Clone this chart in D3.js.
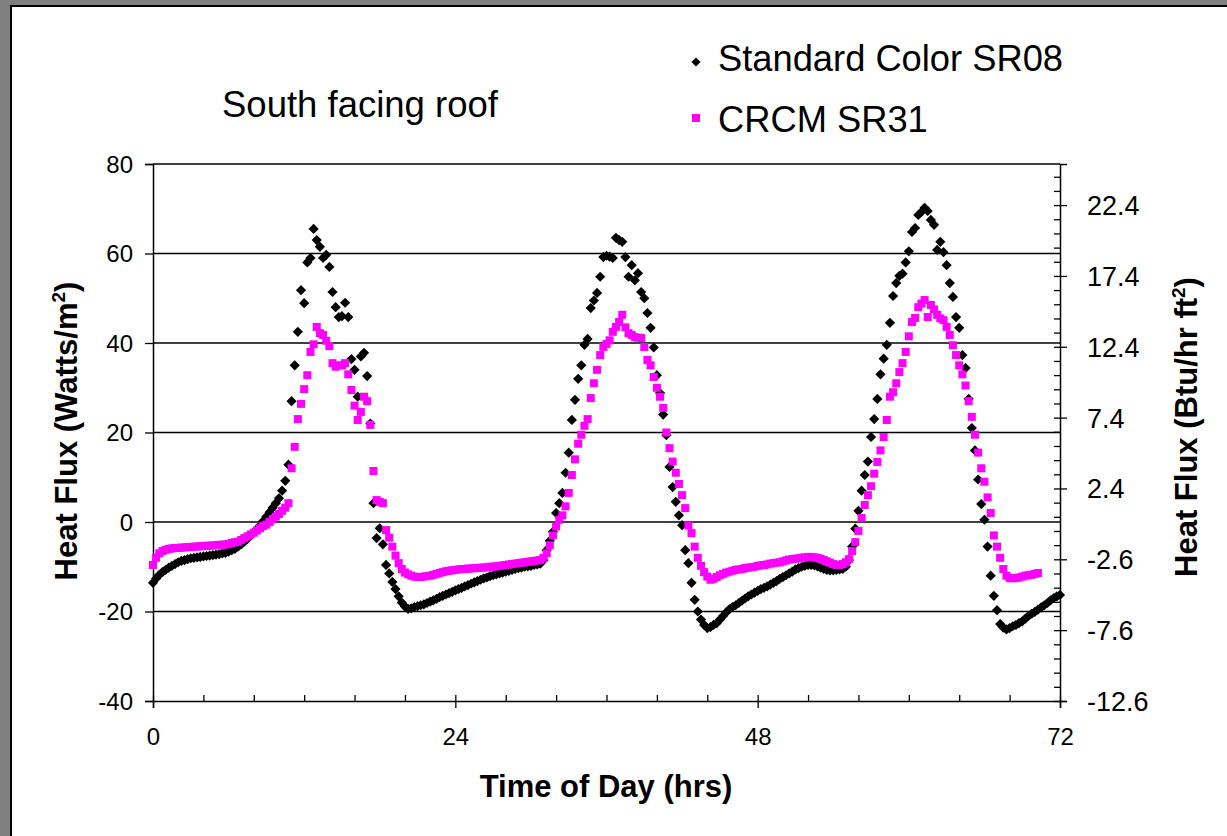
<!DOCTYPE html>
<html>
<head>
<meta charset="utf-8">
<script src="https://cdn.jsdelivr.net/npm/d3@7"></script>
<style>
  html, body { margin: 0; padding: 0; background: #fff; }
  svg { display: block; }
  text { font-family: "Liberation Sans", Arial, sans-serif; fill: #000; }
</style>
</head>
<body>
<svg id="chart" width="1227" height="836"></svg>
<script>
// ---- Data (time step 0.25 h) ----
const timeStep = 0.25;
const standardSR08 = [
  -13.6, -12.6, -11.8, -11.2,  -10.7, -10.2, -9.8, -9.4,  -9.0, -8.7, -8.5, -8.3,  -8.1, -8.0, -7.9, -7.8,
  -7.7, -7.6, -7.5, -7.4,  -7.3, -7.2, -7.0, -6.9,  -6.6, -6.3, -6.0, -5.5,  -5.0, -4.4, -3.8, -3.0,
  -2.3, -1.6, -0.8, 0.2,  1.2, 2.2, 3.2, 4.2,  5.3, 7.0, 9.2, 12.8,  27.0, 35.0, 42.5, 51.8,
  48.9, 58.0, 59.0, 65.5,  63.0, 61.5, 59.0, 59.7,  57.0, 51.4, 48.0, 45.8,  46.0, 49.0, 45.8, 36.4,
  34.0, 28.0, 37.0, 37.8,  32.6, 22.0, 4.2, -3.6,  -1.4, -5.0, -9.6, -11.5,  -13.4, -15.0, -16.6, -18.0,
  -18.9, -19.4, -19.3, -19.0,  -18.8, -18.6, -18.4, -18.1,  -17.8, -17.5, -17.2, -16.8,  -16.5, -16.2, -15.9, -15.6,
  -15.3, -15.0, -14.7, -14.4,  -14.1, -13.8, -13.5, -13.2,  -12.9, -12.6, -12.4, -12.1,  -11.9, -11.7, -11.5, -11.3,
  -11.1, -10.9, -10.7, -10.5,  -10.3, -10.2, -10.0, -9.9,  -9.8, -9.6, -9.5, -9.3,  -8.5, -6.3, -4.2, -2.2,
  2.0, 4.2, 6.5, 11.0,  15.5, 22.8, 27.3, 32.0,  35.0, 39.6, 40.9, 47.8,  49.5, 51.2, 54.8, 59.2,
  59.5, 59.3, 59.0, 63.5,  63.0, 62.6, 59.2, 54.8,  57.4, 54.0, 55.6, 51.4,  50.0, 46.7, 43.4, 39.0,
  32.8, 28.8, 24.0, 19.4,  12.3, 7.8, 4.5, 1.5,  -0.7, -6.3, -9.2, -13.6,  -17.4, -20.0, -21.8, -23.0,
  -23.7, -23.5, -23.0, -22.6,  -21.8, -21.0, -20.2, -19.5,  -19.0, -18.6, -18.1, -17.6,  -17.1, -16.6, -16.2, -15.8,
  -15.4, -15.0, -14.7, -14.4,  -14.0, -13.6, -13.2, -12.7,  -12.3, -11.9, -11.5, -11.1,  -10.6, -10.3, -10.0, -9.8,
  -9.6, -9.6, -9.7, -9.9,  -10.2, -10.5, -10.7, -10.8,  -10.8, -10.7, -10.6, -10.5,  -10.0, -8.5, -5.5, -1.5,
  2.5, 7.0, 10.5, 13.5,  19.0, 23.0, 27.5, 33.0,  36.5, 39.6, 44.5, 50.5,  53.4, 55.0, 55.5, 58.0,
  60.5, 64.8, 65.7, 68.6,  69.3, 70.2, 69.5, 67.5,  66.4, 60.8, 62.6, 60.3,  57.4, 53.4, 50.3, 45.8,
  43.4, 37.3, 34.4, 27.5,  21.0, 16.0, 9.5, 4.0,  0.5, -5.5, -12.0, -16.5,  -19.7, -22.8, -23.6, -24.0,
  -23.7, -23.3, -23.0, -22.6,  -22.2, -21.6, -21.0, -20.5,  -20.1, -19.6, -19.1, -18.6,  -18.1, -17.5, -17.0, -16.6,
  -16.3
];
const crcmSR31 = [
  -9.6, -8.0, -7.0, -6.5,  -6.2, -6.0, -5.9, -5.8,  -5.8, -5.7, -5.7, -5.6,  -5.6, -5.5, -5.5, -5.4,
  -5.4, -5.3, -5.3, -5.2,  -5.2, -5.1, -5.1, -5.0,  -4.9, -4.7, -4.5, -4.4,  -4.0, -3.6, -3.2, -2.8,
  -2.4, -1.9, -1.4, -0.9,  -0.6, 0.0, 0.6, 1.2,  1.8, 2.5, 3.2, 4.2,  12.0, 16.8, 23.0, 26.4,
  29.7, 32.8, 38.0, 39.7,  43.6, 42.2, 41.8, 40.5,  39.3, 35.5, 34.7, 35.0,  35.0, 35.5, 33.0, 29.5,
  26.0, 22.8, 24.6, 28.0,  27.0, 21.7, 11.4, 4.9,  4.5, 4.2, -1.8, -3.5,  -5.5, -7.5, -9.2, -10.5,
  -11.3, -11.7, -12.0, -12.2,  -12.3, -12.3, -12.2, -12.1,  -12.0, -11.8, -11.6, -11.4,  -11.2, -11.0, -10.9, -10.8,
  -10.7, -10.6, -10.5, -10.5,  -10.4, -10.4, -10.3, -10.3,  -10.2, -10.2, -10.1, -10.0,  -10.0, -9.9, -9.8, -9.7,
  -9.6, -9.5, -9.4, -9.3,  -9.2, -9.1, -9.0, -8.9,  -8.8, -8.7, -8.6, -8.5,  -8.0, -7.0, -5.2, -3.0,
  -1.0, 0.5, 1.5, 3.5,  6.5, 10.5, 14.0, 17.5,  19.5, 21.5, 23.0, 27.7,  31.0, 34.0, 37.3, 39.1,
  39.8, 40.6, 42.5, 43.6,  44.7, 46.3, 43.5, 42.2,  41.8, 41.3, 41.2, 41.1,  39.1, 36.2, 35.0, 32.4,
  30.0, 28.0, 25.5, 20.0,  16.5, 13.5, 11.0, 8.5,  6.0, 3.1, -0.8, -2.5,  -5.5, -8.0, -9.8, -11.2,
  -12.2, -12.9, -12.7, -12.3,  -11.9, -11.6, -11.3, -11.1,  -10.9, -10.7, -10.6, -10.5,  -10.3, -10.2, -10.1, -10.0,
  -9.8, -9.7, -9.6, -9.5,  -9.3, -9.2, -9.1, -9.0,  -8.8, -8.6, -8.4, -8.3,  -8.2, -8.1, -8.0, -7.9,
  -7.8, -7.8, -7.9, -8.0,  -8.2, -8.5, -8.8, -9.1,  -9.4, -9.6, -9.6, -9.4,  -9.0, -8.3, -6.5, -4.5,
  -2.0, 0.9, 3.8, 6.0,  8.0, 10.8, 13.4, 16.0,  19.0, 22.8, 28.0, 29.0,  31.0, 33.5, 35.5, 38.0,
  41.5, 44.7, 45.6, 48.0,  48.8, 49.6, 45.8, 48.5,  47.5, 46.3, 45.5, 45.1,  43.6, 41.8, 39.5, 37.3,
  35.0, 33.0, 30.5, 27.0,  23.5, 19.5, 15.5, 12.0,  9.0, 5.5, 2.0, -3.0,  -5.5, -8.0, -10.5, -12.0,
  -12.5, -12.6, -12.5, -12.4,  -12.2, -12.0, -11.9, -11.8,  -11.6, -11.4
];
const seriesNames = ["Standard Color SR08", "CRCM SR31"];
const xMajorTicks = [0, 24, 48, 72];
const yLeftTicks = [-40, -20, 0, 20, 40, 60, 80];
const yRightTicks = [-12.6, -7.6, -2.6, 2.4, 7.4, 12.4, 17.4, 22.4];
const chartTitle = "South facing roof";

// ---- Layout ----
const svg = d3.select("#chart");
const W = 1227, H = 836;
const plot = { left: 153, right: 1060, top: 164, bottom: 701 };
const hyphen = f => d => f(d).replace("\u2212", "-");

// frame
svg.append("rect").attr("x", 0).attr("y", 0).attr("width", W).attr("height", H).attr("fill", "#fff");
svg.append("rect").attr("x", 0).attr("y", 0).attr("width", W).attr("height", 5).attr("fill", "#808080");
svg.append("rect").attr("x", 0).attr("y", 0).attr("width", 10).attr("height", H).attr("fill", "#808080");
svg.append("rect").attr("x", 10).attr("y", 5).attr("width", W - 10).attr("height", 2).attr("fill", "#000");
svg.append("rect").attr("x", 10).attr("y", 5).attr("width", 2).attr("height", H - 5).attr("fill", "#000");

const x = d3.scaleLinear().domain([0, 72]).range([plot.left, plot.right]);
const yL = d3.scaleLinear().domain([-40, 80]).range([plot.bottom, plot.top]);
const yR = d3.scaleLinear().domain([-12.6, 25.3]).range([plot.bottom, plot.top]);

// gridlines
svg.append("g").selectAll("line").data(yLeftTicks.filter(d => d > -40)).join("line")
  .attr("x1", plot.left).attr("x2", plot.right)
  .attr("y1", d => yL(d)).attr("y2", d => yL(d))
  .attr("stroke", "#000").attr("stroke-width", 1.3);

// left axis
const gL = svg.append("g").attr("transform", `translate(${plot.left},0)`)
  .call(d3.axisLeft(yL).tickValues(yLeftTicks).tickSize(8).tickPadding(12).tickFormat(hyphen(d3.format("d"))));
gL.selectAll("text").style("font-size", "24px").style("font-family", "'Liberation Sans', Arial, sans-serif").attr("dy", "0.35em");

// bottom axis
const gB = svg.append("g").attr("transform", `translate(0,${plot.bottom})`)
  .call(d3.axisBottom(x).tickValues(xMajorTicks).tickSize(7).tickPadding(20).tickFormat(d3.format("d")));
gB.selectAll("text").style("font-size", "24px").style("font-family", "'Liberation Sans', Arial, sans-serif");
const minorX = d3.range(0, 73, 4);
svg.append("g").attr("transform", `translate(0,${plot.bottom})`)
  .call(d3.axisBottom(x).tickValues(minorX).tickSize(-6).tickFormat(""))
  .call(g => g.select(".domain").remove());

// right axis
const gR = svg.append("g").attr("transform", `translate(${plot.right},0)`)
  .call(d3.axisRight(yR).tickValues(yRightTicks).tickSize(7).tickPadding(20).tickFormat(hyphen(d3.format(".1f"))));
gR.selectAll("text").style("font-size", "27px").style("font-family", "'Liberation Sans', Arial, sans-serif")
  .attr("dy", "0.35em");
const minorR = d3.range(0, 38).map(k => -12.6 + k);
svg.append("g").attr("transform", `translate(${plot.right},0)`)
  .call(d3.axisRight(yR).tickValues(minorR).tickSize(-6).tickFormat(""))
  .call(g => g.select(".domain").remove());

svg.selectAll(".domain").attr("stroke", "#000").attr("stroke-width", 1.5);
svg.selectAll(".tick line").attr("stroke", "#000").attr("stroke-width", 1.3);

// data markers
const diamond = d3.symbol().type(d3.symbolSquare).size(52);
const square = d3.symbol().type(d3.symbolSquare).size(64);

svg.append("g").selectAll("path").data(standardSR08).join("path")
  .attr("d", diamond)
  .attr("transform", (d, i) => `translate(${x(i * timeStep)},${yL(d)}) rotate(45)`)
  .attr("fill", "#000");

svg.append("g").selectAll("path").data(crcmSR31).join("path")
  .attr("d", square)
  .attr("transform", (d, i) => `translate(${x(i * timeStep)},${yL(d)})`)
  .attr("fill", "#ff00ff");

// title
svg.append("text").attr("x", 222).attr("y", 117).style("font-size", "36.5px").text(chartTitle);

// legend
const legDiamond = d3.symbol().type(d3.symbolSquare).size(42);
const leg = svg.append("g");
leg.append("path").attr("d", legDiamond).attr("transform", "translate(696,62) rotate(45)").attr("fill", "#000");
leg.append("text").attr("x", 718).attr("y", 71).style("font-size", "36.3px").text(seriesNames[0]);
leg.append("path").attr("d", square).attr("transform", "translate(696,118)").attr("fill", "#ff00ff");
leg.append("text").attr("x", 718).attr("y", 132).style("font-size", "36.3px").text(seriesNames[1]);

// axis titles
svg.append("text").attr("x", 606).attr("y", 797).attr("text-anchor", "middle")
  .style("font-size", "31px").style("font-weight", "bold").text("Time of Day (hrs)");

const tL = svg.append("text").attr("transform", "translate(77,431) rotate(-90)").attr("text-anchor", "middle")
  .style("font-size", "31px").style("font-weight", "bold");
tL.append("tspan").text("Heat Flux (Watts/m");
tL.append("tspan").attr("dy", -12).style("font-size", "19px").text("2");
tL.append("tspan").attr("dy", 12).text(")");

const tR = svg.append("text").attr("transform", "translate(1197,427) rotate(-90)").attr("text-anchor", "middle")
  .style("font-size", "31px").style("font-weight", "bold");
tR.append("tspan").text("Heat Flux (Btu/hr ft");
tR.append("tspan").attr("dy", -12).style("font-size", "19px").text("2");
tR.append("tspan").attr("dy", 12).text(")");
</script>
</body>
</html>
